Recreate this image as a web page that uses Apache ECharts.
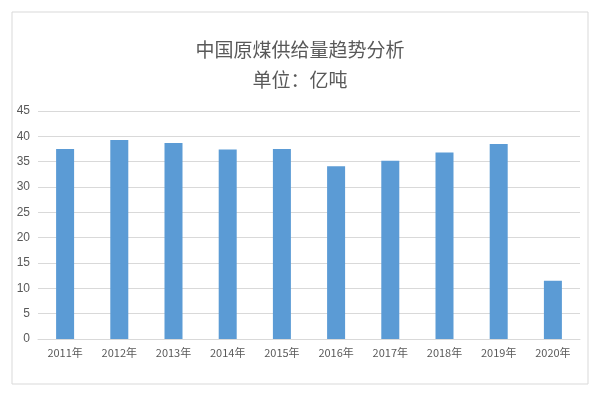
<!DOCTYPE html>
<html><head><meta charset="utf-8">
<script src="https://cdn.jsdelivr.net/npm/echarts@6/dist/echarts.min.js"></script>
<style>html,body{margin:0;padding:0;background:#fff}#c{width:600px;height:400px}</style>
</head><body><div id="c"></div>
<script>
const categories=['2011年','2012年','2013年','2014年','2015年','2016年','2017年','2018年','2019年','2020年'];
const values=[37.5,39.3,38.7,37.4,37.5,34.1,35.2,36.8,38.5,11.5];
const chart=echarts.init(document.getElementById('c'));
chart.setOption({
  animation:false,
  graphic:[{type:'rect',shape:{x:12,y:12,width:576,height:372},style:{fill:'none',stroke:'#d9d9d9',lineWidth:1}}],
  title:{text:'中国原煤供给量趋势分析\n单位：亿吨',left:'center',top:30,
    textStyle:{fontFamily:'Noto Sans CJK SC',fontSize:19,fontWeight:'normal',color:'#595959',lineHeight:30}},
  grid:{left:38,right:20,top:111,bottom:61},
  xAxis:{type:'category',data:categories,
    axisLine:{lineStyle:{color:'#d9d9d9'}},axisTick:{show:false},
    axisLabel:{color:'#595959',fontSize:11,fontFamily:'Noto Sans CJK SC'}},
  yAxis:{type:'value',min:0,max:45,interval:5,
    axisLabel:{color:'#595959',fontSize:12},
    splitLine:{lineStyle:{color:'#d9d9d9'}}},
  series:[{type:'bar',data:values,barWidth:18,itemStyle:{color:'#5b9bd5'}}]
});
</script></body></html>
